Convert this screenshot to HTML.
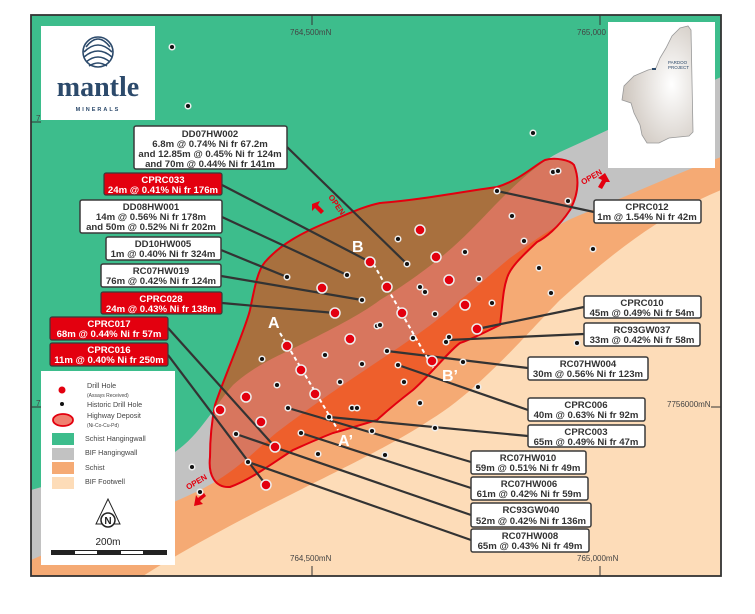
<!DOCTYPE html>
<html><head><meta charset="utf-8"><style>
html,body{margin:0;padding:0;background:#fff;}
svg{display:block;font-family:"Liberation Sans",sans-serif;}
.bx{fill:#fff;stroke:#3a3a3a;stroke-width:1.5;}
.rb{fill:#e3000f;stroke:#3a3a3a;stroke-width:1.2;}
.t{font-size:9.6px;font-weight:bold;fill:#333;text-anchor:middle;}
.tw{font-size:9.6px;font-weight:bold;fill:#fff;text-anchor:middle;}
.ld{stroke:#333;stroke-width:2.2;fill:none;}
.g{font-size:8px;fill:#444;}
</style></head><body>
<svg width="755" height="614" viewBox="0 0 755 614" xmlns="http://www.w3.org/2000/svg">
<defs>
<clipPath id="fr"><rect x="31" y="15" width="690" height="561"/></clipPath>
<path id="depP" d="M250,310 C255,285 258,270 265,262 C280,245 300,233 333,220 C350,213 365,206 380,203 C420,200 460,192 497,187 C520,180 535,165 545,160 C555,157 570,160 574,165 C580,180 578,195 570,210 C558,228 545,238 537,242 C520,258 510,268 507,278 C503,290 503,300 500,325 C485,332 470,340 460,343 C450,350 430,375 413,390 C400,400 390,408 377,420 C360,425 345,430 333,433 C315,440 300,447 293,450 C270,465 250,480 230,487 C215,488 208,475 210,457 C210,440 212,420 215,405 C225,375 245,330 250,310 Z"/>
<clipPath id="dep"><use href="#depP"/></clipPath>
<path id="gr" d="M31,490 C100,470 150,465 175,452 C200,435 215,405 233,385 C255,365 280,355 300,345 C330,330 360,315 380,300 C405,285 425,270 440,258 C465,238 485,215 500,200 C520,180 540,162 560,152 C620,125 670,100 721,77 L721,576 L31,576 Z"/>
<path id="or" d="M31,560 C100,530 160,510 200,490 C240,470 260,445 280,430 C320,400 350,380 380,360 C410,340 440,320 460,300 C480,285 495,270 510,258 C535,240 555,225 580,215 C630,195 680,172 721,157 L721,576 L31,576 Z"/>
<radialGradient id="wa" cx="0.7" cy="0.5" r="0.7"><stop offset="0" stop-color="#fff"/><stop offset="1" stop-color="#cdc5bd"/></radialGradient>
</defs>
<g clip-path="url(#fr)">
<rect x="31" y="15" width="690" height="561" fill="#3dbd8c"/>
<use href="#gr" fill="#c2c2c2"/>
<use href="#or" fill="#f5aa74"/>
<path d="M143,576 C200,540 260,510 300,490 C360,460 400,440 430,420 C480,390 530,330 560,300 C610,255 660,215 721,190 L721,576 Z" fill="#fddcb8"/>
<g clip-path="url(#dep)">
<rect x="31" y="15" width="690" height="561" fill="#a8703e"/>
<use href="#gr" fill="#d8765e"/>
<use href="#or" fill="#ee5f2c"/>
</g>
<use href="#depP" fill="none" stroke="#e3000f" stroke-width="2"/>
</g>
<rect x="31" y="15" width="690" height="561" fill="none" stroke="#333" stroke-width="1.8"/>
<line x1="312" y1="15" x2="312" y2="25" stroke="#333"/><text x="290" y="35" class="g">764,500mN</text>
<line x1="600" y1="15" x2="600" y2="25" stroke="#333"/><text x="577" y="35" class="g">765,000</text>
<line x1="312" y1="566" x2="312" y2="576" stroke="#333"/><text x="290" y="561" class="g">764,500mN</text>
<line x1="600" y1="566" x2="600" y2="576" stroke="#333"/><text x="577" y="561" class="g">765,000mN</text>
<line x1="711" y1="407" x2="721" y2="407" stroke="#333"/><text x="667" y="407" class="g">7756000mN</text>
<line x1="31" y1="122" x2="41" y2="122" stroke="#333"/><text x="36" y="121" class="g">7</text>
<line x1="31" y1="407" x2="41" y2="407" stroke="#333"/><text x="36" y="406" class="g">7</text>
<g class="ld">
<line x1="287" y1="147" x2="407" y2="264"/>
<line x1="222" y1="185" x2="370" y2="262"/>
<line x1="222" y1="217" x2="347" y2="275"/>
<line x1="221" y1="250" x2="287" y2="277"/>
<line x1="221" y1="276" x2="362" y2="300"/>
<line x1="222" y1="303" x2="335" y2="313"/>
<line x1="168" y1="328" x2="275" y2="447"/>
<line x1="168" y1="355" x2="266" y2="485"/>
<line x1="594" y1="212" x2="497" y2="191"/>
<line x1="584" y1="307" x2="477" y2="329"/>
<line x1="584" y1="334" x2="448" y2="340"/>
<line x1="528" y1="368" x2="387" y2="351"/>
<line x1="528" y1="410" x2="398" y2="365"/>
<line x1="528" y1="436" x2="329" y2="417"/>
<line x1="471" y1="462" x2="288" y2="408"/>
<line x1="471" y1="488" x2="301" y2="433"/>
<line x1="471" y1="515" x2="236" y2="434"/>
<line x1="471" y1="540" x2="248" y2="462"/>
</g>
<line x1="280" y1="333" x2="338" y2="430" stroke="#fff" stroke-width="2" stroke-dasharray="4,3"/>
<line x1="370" y1="258" x2="433" y2="368" stroke="#fff" stroke-width="2" stroke-dasharray="4,3"/>
<g font-size="16" font-weight="bold" fill="#fff">
<text x="268" y="328">A</text><text x="338" y="446">A’</text>
<text x="352" y="252">B</text><text x="442" y="381">B’</text>
</g>
<g fill="#e3000f" font-size="8" font-weight="bold">
<text transform="translate(328,197) rotate(55)">OPEN</text>
<path d="M312,204 l8,-3 l-2,4 l6,6 l-3,3 l-6,-6 l-3,3 z"/>
<text transform="translate(583,185) rotate(-30)">OPEN</text>
<path d="M605,173 l5,9 l-4,0 l-4,7 l-4,-2 l4,-7 l-4,-2 z"/>
<text transform="translate(188,490) rotate(-30)">OPEN</text>
<path d="M194,506 l9,-2 l-3,-3 l6,-5 l-2,-3 l-6,5 l-2,-3 z"/>
</g>
<g fill="#e3000f" stroke="#eee" stroke-width="1.5">
<circle cx="370" cy="262" r="5"/><circle cx="322" cy="288" r="5"/><circle cx="335" cy="313" r="5"/><circle cx="350" cy="339" r="5"/>
<circle cx="287" cy="346" r="5"/><circle cx="301" cy="370" r="5"/><circle cx="315" cy="394" r="5"/><circle cx="246" cy="397" r="5"/>
<circle cx="261" cy="422" r="5"/><circle cx="220" cy="410" r="5"/><circle cx="275" cy="447" r="5"/><circle cx="266" cy="485" r="5"/>
<circle cx="420" cy="230" r="5"/><circle cx="436" cy="257" r="5"/><circle cx="449" cy="280" r="5"/><circle cx="465" cy="305" r="5"/>
<circle cx="387" cy="287" r="5"/><circle cx="402" cy="313" r="5"/><circle cx="477" cy="329" r="5"/><circle cx="432" cy="361" r="5"/>
</g>
<g fill="#111" stroke="#eee" stroke-width="1.5">
<circle cx="172" cy="47" r="2.8"/><circle cx="188" cy="106" r="2.8"/><circle cx="287" cy="277" r="2.8"/><circle cx="347" cy="275" r="2.8"/><circle cx="362" cy="300" r="2.8"/>
<circle cx="533" cy="133" r="2.8"/><circle cx="553" cy="172" r="2.8"/><circle cx="558" cy="171" r="2.8"/><circle cx="497" cy="191" r="2.8"/><circle cx="568" cy="201" r="2.8"/>
<circle cx="512" cy="216" r="2.8"/><circle cx="524" cy="241" r="2.8"/><circle cx="398" cy="239" r="2.8"/><circle cx="407" cy="264" r="2.8"/><circle cx="465" cy="252" r="2.8"/>
<circle cx="479" cy="279" r="2.8"/><circle cx="420" cy="287" r="2.8"/><circle cx="425" cy="292" r="2.8"/><circle cx="492" cy="303" r="2.8"/><circle cx="593" cy="249" r="2.8"/>
<circle cx="539" cy="268" r="2.8"/><circle cx="551" cy="293" r="2.8"/><circle cx="262" cy="359" r="2.8"/><circle cx="325" cy="355" r="2.8"/><circle cx="362" cy="364" r="2.8"/>
<circle cx="277" cy="385" r="2.8"/><circle cx="340" cy="382" r="2.8"/><circle cx="288" cy="408" r="2.8"/><circle cx="329" cy="417" r="2.8"/><circle cx="352" cy="408" r="2.8"/>
<circle cx="357" cy="408" r="2.8"/><circle cx="236" cy="434" r="2.8"/><circle cx="301" cy="433" r="2.8"/><circle cx="318" cy="454" r="2.8"/><circle cx="248" cy="462" r="2.8"/>
<circle cx="372" cy="431" r="2.8"/><circle cx="377" cy="326" r="2.8"/><circle cx="192" cy="467" r="2.8"/><circle cx="200" cy="492" r="2.8"/><circle cx="435" cy="314" r="2.8"/>
<circle cx="380" cy="325" r="2.8"/><circle cx="413" cy="338" r="2.8"/><circle cx="449" cy="337" r="2.8"/><circle cx="446" cy="342" r="2.8"/><circle cx="387" cy="351" r="2.8"/>
<circle cx="398" cy="365" r="2.8"/><circle cx="404" cy="382" r="2.8"/><circle cx="463" cy="362" r="2.8"/><circle cx="478" cy="387" r="2.8"/><circle cx="420" cy="403" r="2.8"/>
<circle cx="435" cy="428" r="2.8"/><circle cx="385" cy="455" r="2.8"/><circle cx="577" cy="343" r="2.8"/>
</g>
<rect x="134" y="126" width="153" height="43" class="bx" rx="2"/>
<text x="210" y="137" class="t">DD07HW002</text><text x="210" y="147" class="t">6.8m @ 0.74% Ni fr 67.2m</text>
<text x="210" y="157" class="t">and 12.85m @ 0.45% Ni fr 124m</text><text x="210" y="167" class="t">and 70m @ 0.44% Ni fr 141m</text>
<rect x="104" y="173" width="118" height="22" class="rb" rx="2"/>
<text x="163" y="183" class="tw">CPRC033</text><text x="163" y="193" class="tw">24m @ 0.41% Ni fr 176m</text>
<rect x="80" y="200" width="142" height="33" class="bx" rx="2"/>
<text x="151" y="210" class="t">DD08HW001</text><text x="151" y="220" class="t">14m @ 0.56% Ni fr 178m</text><text x="151" y="230" class="t">and 50m @ 0.52% Ni fr 202m</text>
<rect x="106" y="237" width="115" height="23" class="bx" rx="2"/>
<text x="163" y="247" class="t">DD10HW005</text><text x="163" y="257" class="t">1m @ 0.40% Ni fr 324m</text>
<rect x="101" y="264" width="120" height="23" class="bx" rx="2"/>
<text x="161" y="274" class="t">RC07HW019</text><text x="161" y="284" class="t">76m @ 0.42% Ni fr 124m</text>
<rect x="101" y="292" width="121" height="22" class="rb" rx="2"/>
<text x="161" y="302" class="tw">CPRC028</text><text x="161" y="312" class="tw">24m @ 0.43% Ni fr 138m</text>
<rect x="50" y="317" width="118" height="23" class="rb" rx="2"/>
<text x="109" y="327" class="tw">CPRC017</text><text x="109" y="337" class="tw">68m @ 0.44% Ni fr 57m</text>
<rect x="50" y="343" width="118" height="23" class="rb" rx="2"/>
<text x="109" y="353" class="tw">CPRC016</text><text x="109" y="363" class="tw">11m @ 0.40% Ni fr 250m</text>
<rect x="594" y="200" width="107" height="23" class="bx" rx="2"/>
<text x="647" y="210" class="t">CPRC012</text><text x="647" y="220" class="t">1m @ 1.54% Ni fr 42m</text>
<rect x="584" y="296" width="117" height="22" class="bx" rx="2"/>
<text x="642" y="306" class="t">CPRC010</text><text x="642" y="316" class="t">45m @ 0.49% Ni fr 54m</text>
<rect x="584" y="323" width="116" height="23" class="bx" rx="2"/>
<text x="642" y="333" class="t">RC93GW037</text><text x="642" y="343" class="t">33m @ 0.42% Ni fr 58m</text>
<rect x="528" y="357" width="120" height="23" class="bx" rx="2"/>
<text x="588" y="367" class="t">RC07HW004</text><text x="588" y="377" class="t">30m @ 0.56% Ni fr 123m</text>
<rect x="528" y="398" width="117" height="23" class="bx" rx="2"/>
<text x="586" y="408" class="t">CPRC006</text><text x="586" y="418" class="t">40m @ 0.63% Ni fr 92m</text>
<rect x="528" y="425" width="117" height="22" class="bx" rx="2"/>
<text x="586" y="435" class="t">CPRC003</text><text x="586" y="445" class="t">65m @ 0.49% Ni fr 47m</text>
<rect x="471" y="451" width="115" height="23" class="bx" rx="2"/>
<text x="528" y="461" class="t">RC07HW010</text><text x="528" y="471" class="t">59m @ 0.51% Ni fr 49m</text>
<rect x="471" y="477" width="117" height="23" class="bx" rx="2"/>
<text x="529" y="487" class="t">RC07HW006</text><text x="529" y="497" class="t">61m @ 0.42% Ni fr 59m</text>
<rect x="471" y="503" width="120" height="24" class="bx" rx="2"/>
<text x="531" y="513" class="t">RC93GW040</text><text x="531" y="524" class="t">52m @ 0.42% Ni fr 136m</text>
<rect x="471" y="529" width="118" height="23" class="bx" rx="2"/>
<text x="530" y="539" class="t">RC07HW008</text><text x="530" y="549" class="t">65m @ 0.43% Ni fr 49m</text>
<rect x="41" y="26" width="114" height="94" fill="#fff"/>
<g fill="none" stroke="#2c4a6b" stroke-width="1.6">
<circle cx="98" cy="52" r="15"/>
<path d="M84,52 q7,-7 14,-7 q7,0 14,7 M84,57 q7,-6 14,-6 q7,0 14,6 M86,62 q6,-5 12,-5 q6,0 12,5 M89,66 q5,-3 9,-3 q4,0 9,3 M86,47 q6,-8 12,-8 q6,0 12,8"/>
</g>
<text x="98" y="96" text-anchor="middle" font-family="Liberation Serif,serif" font-weight="bold" font-size="28" fill="#2c4a6b">mantle</text>
<text x="98" y="111" text-anchor="middle" font-size="5.5" font-weight="bold" letter-spacing="2" fill="#2c4a6b">MINERALS</text>
<rect x="608" y="22" width="107" height="146" fill="#fff"/>
<path d="M622,100 l2,-14 l10,-10 l14,-6 l8,-2 l4,-10 l6,-10 l6,-12 l8,-8 l8,-2 l3,4 l2,102 l-4,4 l-20,2 l-10,5 l-12,0 l-5,-8 l-2,-10 l-6,-12 l-3,-10 z" fill="url(#wa)" stroke="#999" stroke-width="0.8"/>
<rect x="652" y="68" width="4" height="2" fill="#2c4a6b"/>
<text x="668" y="64" font-size="4.5" fill="#2c4a6b">PARDOO</text><text x="668" y="69" font-size="4.5" fill="#2c4a6b">PROJECT</text>
<rect x="41" y="371" width="134" height="194" fill="#fff"/>
<circle cx="62" cy="390" r="3.5" fill="#e3000f"/>
<circle cx="62" cy="404" r="2" fill="#111"/>
<ellipse cx="63" cy="420" rx="10" ry="6" fill="#f08070" stroke="#e3000f" stroke-width="1.8"/>
<g font-size="7.2" fill="#444">
<text x="87" y="388">Drill Hole</text><text x="87" y="397" font-size="5">(Assays Received)</text>
<text x="87" y="407">Historic Drill Hole</text>
<text x="87" y="418">Highway Deposit</text><text x="87" y="427" font-size="5">(Ni-Co-Cu-Pd)</text>
<text x="85" y="441">Schist Hangingwall</text>
<text x="85" y="455">BIF Hangingwall</text>
<text x="85" y="470">Schist</text>
<text x="85" y="484">BIF Footwell</text>
</g>
<rect x="52" y="433" width="22" height="12" fill="#3dbd8c"/>
<rect x="52" y="448" width="22" height="12" fill="#c2c2c2"/>
<rect x="52" y="462" width="22" height="12" fill="#f5aa74"/>
<rect x="52" y="477" width="22" height="12" fill="#fddcb8"/>
<path d="M108,499 l-12,25 h24 z" fill="#fff" stroke="#222" stroke-width="1"/>
<circle cx="108" cy="520" r="7" fill="#fff" stroke="#222" stroke-width="1.5"/>
<text x="108" y="524" text-anchor="middle" font-size="10" font-weight="bold" fill="#222">N</text>
<text x="108" y="545" text-anchor="middle" font-size="10" fill="#222">200m</text>
<rect x="51" y="550" width="116" height="5" fill="#222"/>
<rect x="75" y="551" width="22" height="3" fill="#fff"/><rect x="121" y="551" width="22" height="3" fill="#fff"/>
</svg>
</body></html>
